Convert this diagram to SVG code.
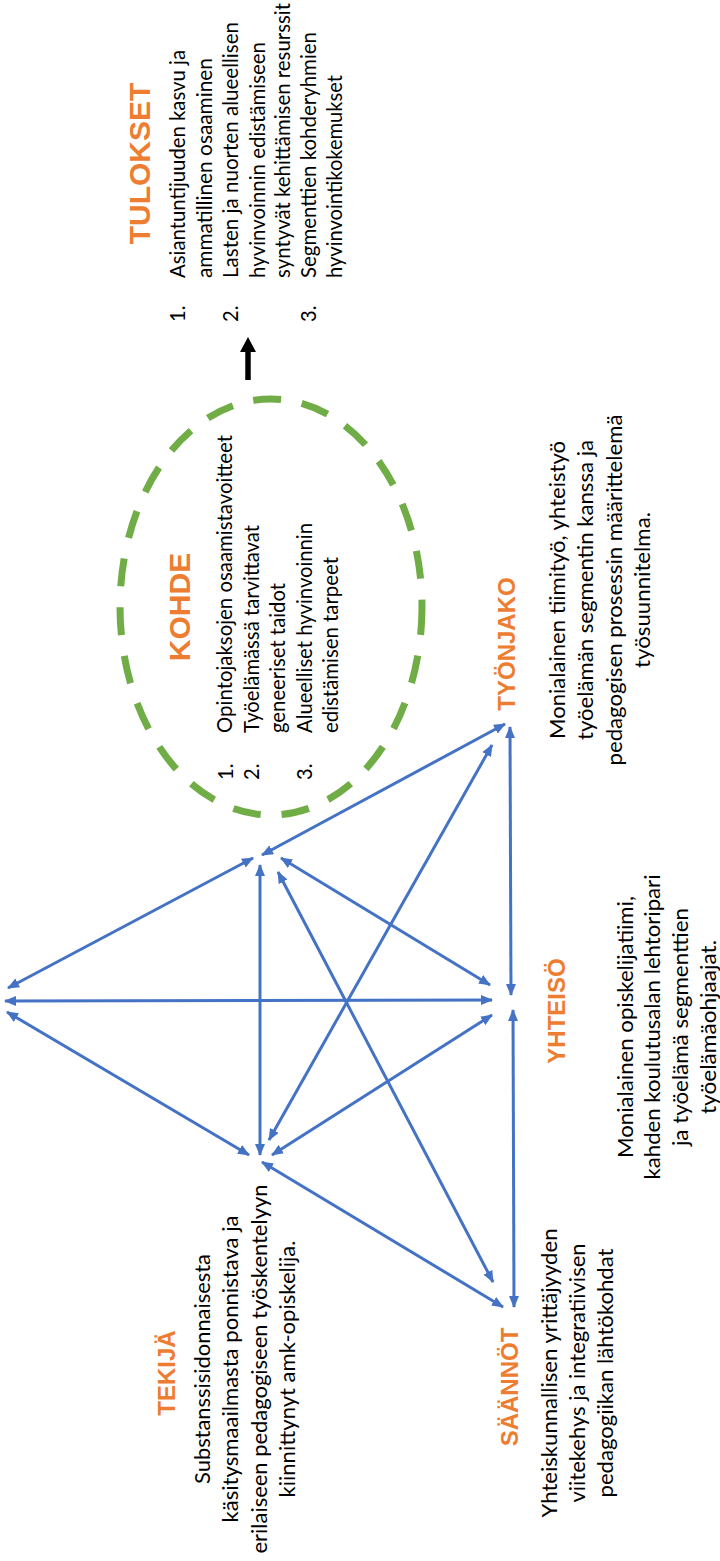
<svg xmlns="http://www.w3.org/2000/svg" width="720" height="1561" viewBox="0 0 720 1561">
<defs>
<style>
.h{font-family:"Liberation Sans",Arial,sans-serif;font-weight:bold;fill:#ED7D31;}
.h30{font-size:30px;}
.h24{font-size:24px;}
.t{font-family:Lato,"Liberation Sans",sans-serif;font-size:20.2px;fill:#000;}
.d{font-family:Lato,"Liberation Sans",sans-serif;font-size:21.8px;fill:#000;text-anchor:middle;}
.c{text-anchor:middle;}
.cn{stroke:#4472C4;stroke-width:3;fill:none;marker-start:url(#ah);marker-end:url(#ah);}
</style>
<marker id="ah" viewBox="0 0 12 10" refX="11" refY="5" markerWidth="12" markerHeight="10" markerUnits="userSpaceOnUse" orient="auto-start-reverse">
<path d="M0,0 L12,5 L0,10 z" fill="#4472C4"/>
</marker>
</defs>
<rect width="720" height="1561" fill="#fff"/>

<g id="connectors">
<line class="cn" x1="8" y1="988" x2="253" y2="858"/>
<line class="cn" x1="5" y1="1001" x2="492" y2="1000"/>
<line class="cn" x1="7" y1="1012" x2="249" y2="1155"/>
<line class="cn" x1="260" y1="865" x2="260" y2="1155"/>
<line class="cn" x1="262" y1="855" x2="505" y2="724"/>
<line class="cn" x1="281" y1="858" x2="490" y2="985"/>
<line class="cn" x1="278" y1="872" x2="493" y2="1282"/>
<line class="cn" x1="269" y1="1140" x2="492" y2="745"/>
<line class="cn" x1="272" y1="1155" x2="492" y2="1015"/>
<line class="cn" x1="262" y1="1162" x2="503" y2="1307"/>
<line class="cn" x1="510" y1="727" x2="511" y2="995"/>
<line class="cn" x1="513" y1="1010" x2="514" y2="1307"/>
<g id="result-arrow">
<line x1="248" y1="380" x2="248" y2="350" stroke="#000" stroke-width="5.5"/>
<polygon points="248,337 240,352 256,352" fill="#000"/>
</g>
</g>

<g id="tulokset">
<text class="h h30 c" transform="translate(150,163.5) rotate(-90)">TULOKSET</text>
<text class="t" transform="translate(185,322) rotate(-90)">1.</text>
<text class="t" transform="translate(238,322) rotate(-90)">2.</text>
<text class="t" transform="translate(316,322) rotate(-90)">3.</text>
<text class="t" transform="translate(185,278) rotate(-90)" textLength="228" lengthAdjust="spacingAndGlyphs">Asiantuntijuuden kasvu ja</text>
<text class="t" transform="translate(211.5,278) rotate(-90)" textLength="220" lengthAdjust="spacingAndGlyphs">ammatillinen osaaminen</text>
<text class="t" transform="translate(238,278) rotate(-90)" textLength="256" lengthAdjust="spacingAndGlyphs">Lasten ja nuorten alueellisen</text>
<text class="t" transform="translate(264.5,278) rotate(-90)" textLength="236" lengthAdjust="spacingAndGlyphs">hyvinvoinnin edistämiseen</text>
<text class="t" transform="translate(290,278) rotate(-90)" textLength="275" lengthAdjust="spacingAndGlyphs">syntyvät kehittämisen resurssit</text>
<text class="t" transform="translate(316,278) rotate(-90)" textLength="246" lengthAdjust="spacingAndGlyphs">Segmenttien kohderyhmien</text>
<text class="t" transform="translate(342,278) rotate(-90)" textLength="203" lengthAdjust="spacingAndGlyphs">hyvinvointikokemukset</text>
</g>

<g id="kohde">
<ellipse cx="271" cy="607" rx="151" ry="208" fill="none" stroke="#70AD47" stroke-width="7" stroke-dasharray="28 21"/>
<text class="h h30 c" transform="translate(190,607) rotate(-90)">KOHDE</text>
<text class="t" transform="translate(233,780) rotate(-90)">1.</text>
<text class="t" transform="translate(259,780) rotate(-90)">2.</text>
<text class="t" transform="translate(312,780) rotate(-90)">3.</text>
<text class="t" transform="translate(232,733) rotate(-90)" textLength="298" lengthAdjust="spacingAndGlyphs">Opintojaksojen osaamistavoitteet</text>
<text class="t" transform="translate(258.5,733) rotate(-90)" textLength="208" lengthAdjust="spacingAndGlyphs">Työelämässä tarvittavat</text>
<text class="t" transform="translate(285,733) rotate(-90)" textLength="150" lengthAdjust="spacingAndGlyphs">geneeriset taidot</text>
<text class="t" transform="translate(311.5,733) rotate(-90)" textLength="210" lengthAdjust="spacingAndGlyphs">Alueelliset hyvinvoinnin</text>
<text class="t" transform="translate(338,733) rotate(-90)" textLength="176" lengthAdjust="spacingAndGlyphs">edistämisen tarpeet</text>
</g>

<g id="tyonjako">
<text class="h h24 c" transform="translate(515,644) rotate(-90)">TYÖNJAKO</text>
<text class="d" transform="translate(565,590) rotate(-90)" textLength="298" lengthAdjust="spacingAndGlyphs">Monialainen tiimityö, yhteistyö</text>
<text class="d" transform="translate(593,590) rotate(-90)" textLength="300" lengthAdjust="spacingAndGlyphs">työelämän segmentin kanssa ja</text>
<text class="d" transform="translate(622,590) rotate(-90)" textLength="351" lengthAdjust="spacingAndGlyphs">pedagogisen prosessin määrittelemä</text>
<text class="d" transform="translate(650,590) rotate(-90)" textLength="156" lengthAdjust="spacingAndGlyphs">työsuunnitelma.</text>
</g>

<g id="yhteiso">
<text class="h h24 c" transform="translate(565,1011) rotate(-90)">YHTEISÖ</text>
<text class="d" transform="translate(633,1027) rotate(-90)" textLength="262" lengthAdjust="spacingAndGlyphs">Monialainen opiskelijatiimi,</text>
<text class="d" transform="translate(660,1027) rotate(-90)" textLength="305" lengthAdjust="spacingAndGlyphs">kahden koulutusalan lehtoripari</text>
<text class="d" transform="translate(688,1027) rotate(-90)" textLength="238" lengthAdjust="spacingAndGlyphs">ja työelämä segmenttien</text>
<text class="d" transform="translate(716,1027) rotate(-90)" textLength="174" lengthAdjust="spacingAndGlyphs">työelämäohjaajat.</text>
</g>

<g id="tekija">
<text class="h h24 c" transform="translate(175,1373) rotate(-90)">TEKIJÄ</text>
<text class="d" transform="translate(210,1369) rotate(-90)" textLength="230" lengthAdjust="spacingAndGlyphs">Substanssisidonnaisesta</text>
<text class="d" transform="translate(238,1369) rotate(-90)" textLength="307" lengthAdjust="spacingAndGlyphs">käsitysmaailmasta ponnistava ja</text>
<text class="d" transform="translate(267,1369) rotate(-90)" textLength="369" lengthAdjust="spacingAndGlyphs">erilaiseen pedagogiseen työskentelyyn</text>
<text class="d" transform="translate(295,1369) rotate(-90)" textLength="257" lengthAdjust="spacingAndGlyphs">kiinnittynyt amk-opiskelija.</text>
</g>

<g id="saannot">
<text class="h h24 c" transform="translate(518,1387) rotate(-90)">SÄÄNNÖT</text>
<text class="d" transform="translate(557,1373) rotate(-90)" textLength="289" lengthAdjust="spacingAndGlyphs">Yhteiskunnallisen yrittäjyyden</text>
<text class="d" transform="translate(585,1373) rotate(-90)" textLength="259" lengthAdjust="spacingAndGlyphs">viitekehys ja integratiivisen</text>
<text class="d" transform="translate(613,1373) rotate(-90)" textLength="249" lengthAdjust="spacingAndGlyphs">pedagogiikan lähtökohdat</text>
</g>
</svg>
